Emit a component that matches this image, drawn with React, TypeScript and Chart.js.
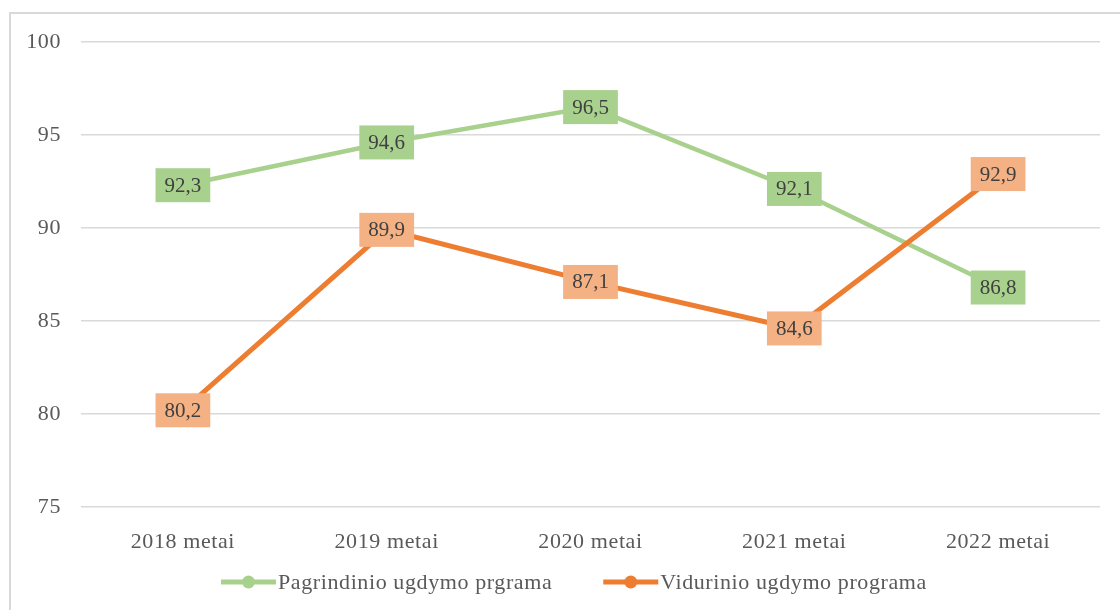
import React, { useEffect, useRef } from "react";
import { Chart, registerables } from "chart.js";

Chart.register(...registerables);

const categories = ["2018 metai", "2019 metai", "2020 metai", "2021 metai", "2022 metai"];
const pagrindinio = [92.3, 94.6, 96.5, 92.1, 86.8];
const vidurinio = [80.2, 89.9, 87.1, 84.6, 92.9];
const seriesNames = ["Pagrindinio ugdymo prgrama", "Vidurinio ugdymo programa"];

const GREEN = "#A9D18E";
const ORANGE = "#ED7D31";
const ORANGE_BOX = "#F4B183";
const FONT = "'Liberation Serif', 'Times New Roman', serif";

const spacingPlugin = {
  id: "letterSpacing",
  beforeDraw(chart: any) {
    (chart.ctx as any).letterSpacing = "0.6px";
  },
};

const labelPlugin = {
  id: "boxLabels",
  afterDatasetsDraw(chart: any) {
    const ctx = chart.ctx;
    ctx.save();
    ctx.font = `21px ${FONT}`;
    ctx.letterSpacing = "0px";
    ctx.textAlign = "center";
    ctx.textBaseline = "middle";
    chart.data.datasets.forEach((ds: any, i: number) => {
      const meta = chart.getDatasetMeta(i);
      meta.data.forEach((pt: any, j: number) => {
        const txt = String(ds.data[j]).replace(".", ",");
        const w = ctx.measureText(txt).width + 18;
        const h = 34;
        ctx.fillStyle = ds.boxColor;
        ctx.fillRect(pt.x - w / 2, pt.y - h / 2, w, h);
        ctx.fillStyle = "#404040";
        ctx.fillText(txt, pt.x, pt.y + 1);
      });
    });
    ctx.restore();
  },
};

const legendPlugin = {
  id: "customLegend",
  afterDraw(chart: any) {
    const ctx = chart.ctx;
    ctx.save();
    ctx.font = `22px ${FONT}`;
    ctx.letterSpacing = "0.6px";
    ctx.textBaseline = "middle";
    const y = 582;
    const lineLen = 55;
    const gapText = 2;
    const gapItems = 51;
    let x = 221;
    chart.data.datasets.forEach((ds: any) => {
      const color = ds.borderColor;
      ctx.strokeStyle = color;
      ctx.lineWidth = 5;
      ctx.beginPath();
      ctx.moveTo(x, y);
      ctx.lineTo(x + lineLen, y);
      ctx.stroke();
      ctx.fillStyle = color;
      ctx.beginPath();
      ctx.arc(x + lineLen / 2, y, 6.5, 0, Math.PI * 2);
      ctx.fill();
      ctx.fillStyle = "#595959";
      ctx.fillText(ds.label, x + lineLen + gapText, y + 1);
      x += lineLen + gapText + ctx.measureText(ds.label).width + gapItems;
    });
    ctx.restore();
  },
};

export default function App() {
  const ref = useRef<HTMLCanvasElement>(null);
  useEffect(() => {
    if (!ref.current) return;
    const chart = new Chart(ref.current, {
      type: "line",
      data: {
        labels: categories,
        datasets: [
          {
            label: seriesNames[0],
            data: pagrindinio,
            borderColor: GREEN,
            backgroundColor: GREEN,
            borderWidth: 4.5,
            pointRadius: 0,
            order: 1,
            boxColor: GREEN,
          } as any,
          {
            label: seriesNames[1],
            data: vidurinio,
            borderColor: ORANGE,
            backgroundColor: ORANGE,
            borderWidth: 5,
            pointRadius: 0,
            order: 0,
            boxColor: ORANGE_BOX,
          } as any,
        ],
      },
      options: {
        animation: false,
        responsive: false,
        maintainAspectRatio: false,
        layout: { padding: { left: 0, right: 20, top: 42, bottom: 53 } },
        plugins: { legend: { display: false }, tooltip: { enabled: false } },
        scales: {
          x: {
            offset: true,
            grid: { display: false },
            border: { display: false },
            ticks: { color: "#595959", font: { family: FONT, size: 22 }, padding: 14 },
            afterFit: (s: any) => { s.height = 50; },
          },
          y: {
            min: 75,
            max: 100,
            grid: { color: "#d9d9d9", lineWidth: 1.6, drawTicks: false },
            border: { display: false },
            ticks: { stepSize: 5, color: "#595959", font: { family: FONT, size: 22 }, padding: 20 },
            afterFit: (s: any) => { s.width = 81; },
          },
        },
      },
      plugins: [spacingPlugin, labelPlugin, legendPlugin],
    });
    return () => chart.destroy();
  }, []);
  return (
    <div style={{ position: "fixed", left: 0, top: 0, width: 1120, height: 610, overflow: "hidden", background: "#fff" }}>
      <div style={{ position: "absolute", left: 9, top: 12, width: 1200, height: 700, border: "2px solid #d9d9d9" }} />
      <canvas ref={ref} width={1120} height={610} style={{ position: "absolute", left: 0, top: 0 }} />
    </div>
  );
}
